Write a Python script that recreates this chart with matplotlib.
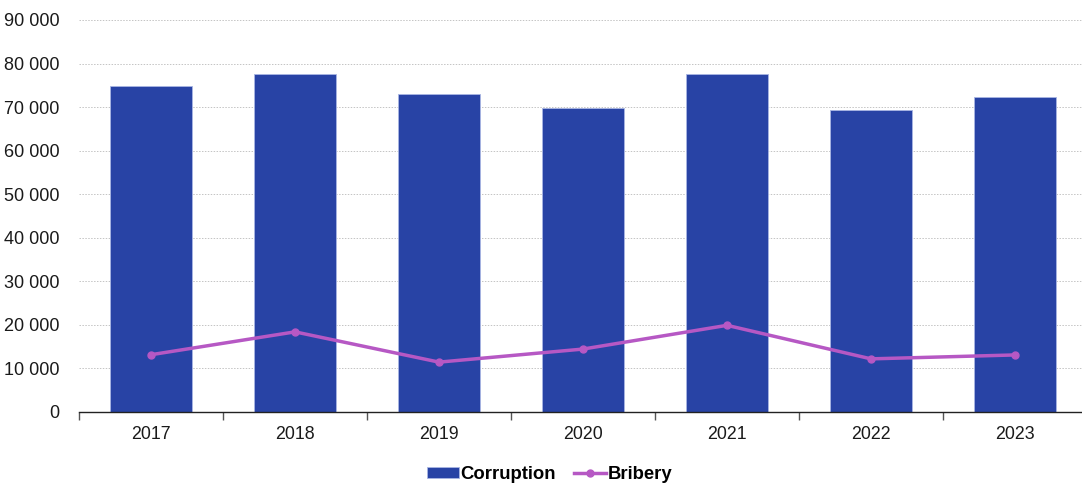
import matplotlib
matplotlib.use("Agg")
import matplotlib.pyplot as plt
import numpy as np
from matplotlib.ticker import FuncFormatter

years = ["2017", "2018", "2019", "2020", "2021", "2022", "2023"]
corruption = [74800, 77600, 73000, 69900, 77500, 69300, 72300]
bribery = [13150, 18400, 11450, 14450, 19900, 12200, 13100]

plt.rcParams['font.family'] = ['Liberation Sans', 'DejaVu Sans']

fig = plt.figure(figsize=(10.82, 4.84), dpi=100)
ax = fig.add_axes([79/1082, 1 - 412/484, 1008/1082, 392/484])

x = np.arange(len(years))
bars = ax.bar(x, corruption, width=0.57, color='#2843A5', edgecolor='#a9b6e3', linewidth=0.6,
              label='Corruption', zorder=2)
line, = ax.plot(x, bribery, color='#B658C4', linewidth=2.5, marker='o', markersize=5,
                label='Bribery', zorder=3)

ax.set_xlim(-0.5, len(years) - 0.5)
ax.set_ylim(0, 90000)
ax.set_yticks(np.arange(0, 90001, 10000))
ax.yaxis.set_major_formatter(FuncFormatter(lambda v, p: f"{int(v):,}".replace(",", " ")))
ax.grid(axis='y', color='#c4c4c4', linestyle=(0, (1.5, 1.5)), linewidth=0.7, zorder=0)
ax.set_axisbelow(True)

ax.set_xticks(x)
ax.set_xticklabels(years)
ax.set_xticks(np.arange(-0.5, len(years)), minor=True)
ax.tick_params(axis='x', which='major', length=0, pad=10, labelsize=12.8, colors='#1a1a1a')
ax.tick_params(axis='x', which='minor', length=6, width=1, color='#555555')
ax.tick_params(axis='y', length=0, pad=14, labelsize=13, colors='#1a1a1a')

for s in ['top', 'right', 'left']:
    ax.spines[s].set_visible(False)
ax.spines['bottom'].set_color('#222222')
ax.spines['bottom'].set_linewidth(1.0)

leg = fig.legend([bars, line], ['Corruption', 'Bribery'], loc='lower center',
                 bbox_to_anchor=(0.508, -0.032),
                 ncol=2, frameon=False, handlelength=1.7, handleheight=0.5,
                 handletextpad=0.1, columnspacing=1.0,
                 prop={'weight': 'bold', 'size': 13.3})

fig.savefig('out.png', dpi=100)
